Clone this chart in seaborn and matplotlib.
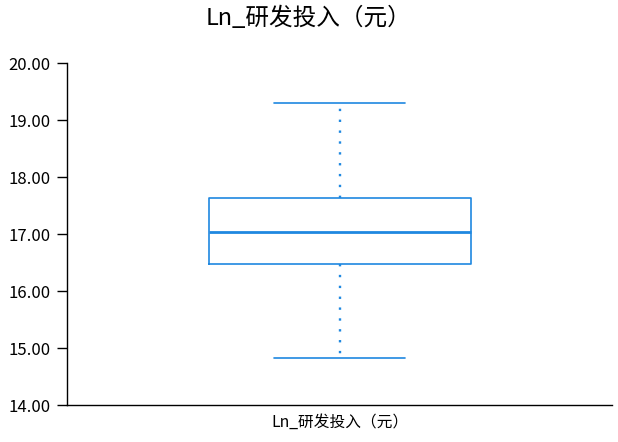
import matplotlib
matplotlib.use("Agg")
import matplotlib.pyplot as plt
import seaborn as sns
import pandas as pd

# five-number summary
label = "Ln_研发投入（元）"
values = [14.82, 16.47, 17.03, 17.64, 19.30]
yticks = [14, 15, 16, 17, 18, 19, 20]
color = "#1f88e0"

sns.set_style("white")
plt.rcParams['font.family'] = ['Noto Sans CJK SC', 'DejaVu Sans']
plt.rcParams['text.color'] = 'black'
plt.rcParams['xtick.color'] = 'black'
plt.rcParams['ytick.color'] = 'black'

df = pd.DataFrame({"var": [label] * len(values), "val": values})

fig = plt.figure(figsize=(6.18, 4.42), dpi=100)
ax = fig.add_axes([0.109, 0.0837, 0.882, 0.7733])

sns.boxplot(data=df, x="var", y="val", ax=ax, width=0.48, whis=1.5,
            fill=False, color=color,
            boxprops=dict(color=color, linewidth=1.2),
            medianprops=dict(color=color, linewidth=2.0),
            whiskerprops=dict(color=color, linewidth=1.7, linestyle=(0, (1, 3.6))),
            capprops=dict(color=color, linewidth=1.2),
            showfliers=False)

ax.set_ylim(14, 20)
ax.set_xlim(-0.5, 0.5)
ax.set_yticks(yticks)
ax.set_yticklabels([f"{t:.2f}" for t in yticks], fontsize=12)
ax.tick_params(axis="x", length=0, labelsize=11.3, pad=6)
ax.tick_params(axis="y", length=7, width=1, left=True, pad=5)
ax.set_xlabel("")
ax.set_ylabel("")
for s in ["top", "right"]:
    ax.spines[s].set_visible(False)
for s in ["left", "bottom"]:
    ax.spines[s].set_color("black")
    ax.spines[s].set_linewidth(1)

fig.suptitle(label, fontsize=17, y=0.985)

fig.savefig("out.png", dpi=100)
